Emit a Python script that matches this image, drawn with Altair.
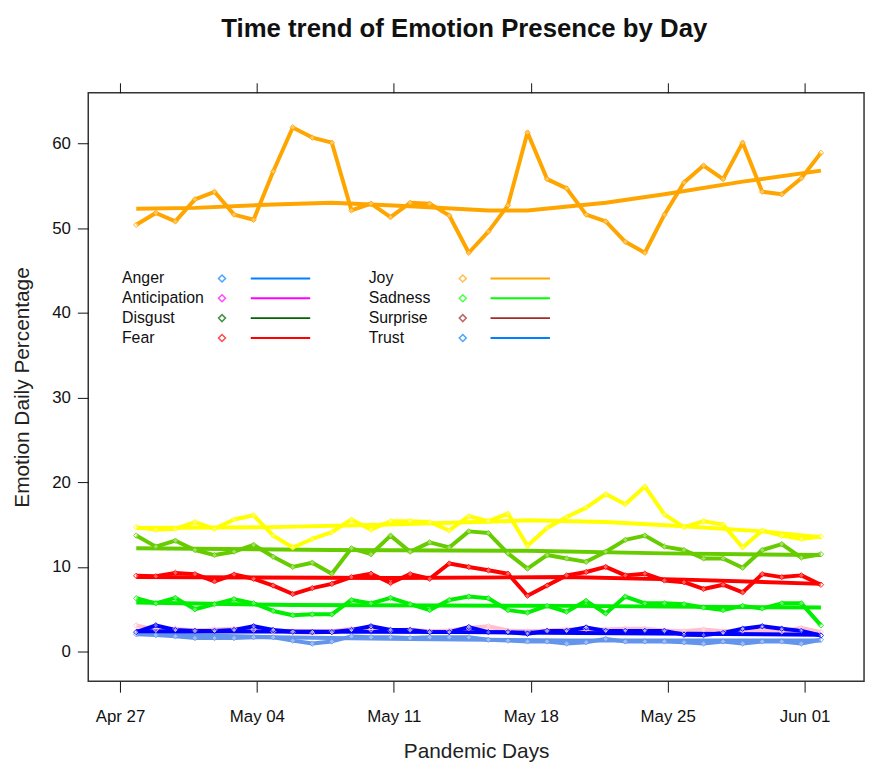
import altair as alt
import pandas as pd

# ---------------- data ----------------
dates = pd.date_range("2020-04-28", "2020-06-02", freq="D").strftime("%Y-%m-%d").tolist()

joy = [50.4, 51.8, 50.8, 53.4, 54.3, 51.6, 51.0, 56.7, 61.9, 60.7, 60.1, 52.1, 52.9, 51.3, 53.0, 52.9, 51.5, 47.1,
       49.6, 52.7, 61.3, 55.8, 54.7, 51.6, 50.8, 48.4, 47.1, 51.6, 55.4, 57.4, 55.8, 60.1, 54.3, 54.0, 55.9, 58.9]
anticipation = [14.7, 14.4, 14.5, 15.3, 14.5, 15.6, 16.1, 13.7, 12.3, 13.3, 14.1, 15.6, 14.4, 15.4, 15.4, 15.3, 14.3, 16.0,
                15.4, 16.3, 12.5, 14.6, 15.9, 17.0, 18.6, 17.4, 19.5, 16.2, 14.7, 15.4, 15.0, 12.3, 14.3, 13.7, 13.3, 13.6]
trust = [13.7, 12.4, 13.1, 12.0, 11.4, 11.8, 12.6, 11.2, 10.0, 10.5, 9.2, 12.2, 11.5, 13.7, 11.8, 12.9, 12.3, 14.2,
         14.0, 11.6, 9.8, 11.4, 11.0, 10.6, 11.8, 13.2, 13.7, 12.4, 12.0, 11.0, 11.0, 9.9, 12.0, 12.7, 11.1, 11.5]
fear = [8.95, 8.9, 9.3, 9.15, 8.3, 9.1, 8.6, 7.8, 6.8, 7.5, 8.0, 8.8, 9.2, 8.1, 9.15, 8.6, 10.4, 10.0,
        9.6, 9.2, 6.6, 7.8, 9.0, 9.4, 10.0, 9.0, 9.2, 8.4, 8.2, 7.4, 7.9, 7.0, 9.15, 8.8, 9.0, 7.9]
sadness = [6.3, 5.7, 6.35, 5.0, 5.6, 6.2, 5.7, 4.8, 4.3, 4.4, 4.4, 6.1, 5.7, 6.35, 5.6, 4.9, 6.1, 6.5,
           6.3, 4.9, 4.6, 5.4, 4.7, 6.0, 4.5, 6.5, 5.7, 5.7, 5.6, 5.2, 4.9, 5.4, 5.1, 5.7, 5.7, 3.1]
surprise = [3.1, 2.6, 2.7, 2.5, 2.6, 2.7, 2.6, 2.4, 2.3, 2.2, 2.4, 2.7, 2.6, 2.5, 2.6, 2.4, 2.5, 2.8,
            3.0, 2.5, 2.4, 2.5, 2.6, 2.7, 2.6, 2.7, 2.7, 2.5, 2.4, 2.6, 2.4, 2.5, 2.7, 2.4, 2.8, 2.3]
anger = [2.3, 3.1, 2.55, 2.45, 2.45, 2.55, 3.0, 2.55, 2.35, 2.3, 2.3, 2.55, 3.0, 2.55, 2.55, 2.3, 2.3, 2.9,
         2.3, 2.3, 2.1, 2.45, 2.45, 2.85, 2.45, 2.45, 2.45, 2.45, 2.0, 1.95, 2.2, 2.7, 3.0, 2.7, 2.45, 1.9]
disgust = [2.05, 1.95, 1.8, 1.6, 1.6, 1.6, 1.7, 1.7, 1.3, 0.95, 1.2, 1.8, 1.7, 1.7, 1.6, 1.7, 1.7, 1.7,
           1.4, 1.3, 1.2, 1.2, 0.95, 1.1, 1.5, 1.2, 1.2, 1.2, 1.1, 0.95, 1.2, 0.95, 1.2, 1.2, 0.95, 1.4]

# smooth trend lines at a few dates
joy_trend_dates = ["2020-04-28", "2020-05-01", "2020-05-05", "2020-05-08", "2020-05-12", "2020-05-16",
                   "2020-05-18", "2020-05-22", "2020-05-25", "2020-05-29", "2020-06-02"]
joy_trend = [52.3, 52.4, 52.8, 53.0, 52.6, 52.1, 52.1, 53.0, 54.0, 55.5, 56.8]
anticipation_trend_dates = ["2020-04-28", "2020-05-05", "2020-05-11", "2020-05-18", "2020-05-22",
                            "2020-05-26", "2020-05-30", "2020-06-02"]
anticipation_trend = [14.6, 14.7, 15.0, 15.5, 15.3, 14.8, 14.2, 13.5]
trust_trend_dates = ["2020-04-28", "2020-05-08", "2020-05-18", "2020-05-25", "2020-06-02"]
trust_trend = [12.2, 12.0, 11.9, 11.6, 11.4]
fear_trend_dates = ["2020-04-28", "2020-05-11", "2020-05-20", "2020-05-26", "2020-06-02"]
fear_trend = [8.8, 8.7, 8.8, 8.5, 8.0]
sadness_trend_dates = ["2020-04-28", "2020-05-06", "2020-05-20", "2020-06-02"]
sadness_trend = [5.8, 5.5, 5.4, 5.2]
surprise_trend_dates = ["2020-04-28", "2020-06-02"]
surprise_trend = [2.5, 2.3]
anger_trend_dates = ["2020-04-28", "2020-05-15", "2020-06-02"]
anger_trend = [2.4, 2.3, 2.0]
disgust_trend_dates = ["2020-04-28", "2020-05-05", "2020-05-12", "2020-05-20", "2020-06-02"]
disgust_trend = [2.1, 1.7, 1.5, 1.3, 1.3]

# drawing order (bottom to top) and line colours
draw_order = ["Disgust", "Surprise", "Anger", "Sadness", "Fear", "Trust", "Anticipation", "Joy"]
line_colors = ["#6495ed", "#ffc0cb", "#0000ff", "#00ee00", "#ff0000", "#66cc00", "#ffff00", "#ffa500"]

series = {"Joy": joy, "Anticipation": anticipation, "Trust": trust, "Fear": fear,
          "Sadness": sadness, "Surprise": surprise, "Anger": anger, "Disgust": disgust}
trends = {"Joy": (joy_trend_dates, joy_trend),
          "Anticipation": (anticipation_trend_dates, anticipation_trend),
          "Trust": (trust_trend_dates, trust_trend),
          "Fear": (fear_trend_dates, fear_trend),
          "Sadness": (sadness_trend_dates, sadness_trend),
          "Surprise": (surprise_trend_dates, surprise_trend),
          "Anger": (anger_trend_dates, anger_trend),
          "Disgust": (disgust_trend_dates, disgust_trend)}

# legend (lattice key), filled column by column in a 2-column grid
legend_order = ["Anger", "Anticipation", "Disgust", "Fear", "Joy", "Sadness", "Surprise", "Trust"]
legend_colors = ["#0080ff", "#ff00ff", "#006400", "#ff0000", "#ffa500", "#00ff00", "#a52a2a", "#0080ff"]

tick_dates = [(2020, 4, 27), (2020, 5, 4), (2020, 5, 11), (2020, 5, 18), (2020, 5, 25), (2020, 6, 1)]
y_ticks = [0, 10, 20, 30, 40, 50, 60]

# ---------------- frames ----------------
rows = []
for k, emo in enumerate(draw_order):
    for d, v in zip(dates, series[emo]):
        rows.append({"date": d, "value": v, "emotion": emo, "grp": f"{k}a"})
    td, tv = trends[emo]
    for d, v in zip(td, tv):
        rows.append({"date": d, "value": v, "emotion": emo, "grp": f"{k}b"})
df = pd.DataFrame(rows)
pts = df[df["grp"].str.endswith("a")]

FONT = "Liberation Sans"

x_dom = [alt.DateTime(year=2020, month=4, date=25, hours=13, minutes=6, utc=True),
         alt.DateTime(year=2020, month=6, date=4, hours=4, minutes=56, utc=True)]
x_vals = [alt.DateTime(year=y, month=m, date=d, hours=4, utc=True) for (y, m, d) in tick_dates]
x_scale = alt.Scale(type="utc", domain=x_dom)
y_scale = alt.Scale(domain=[-3.5, 66], nice=False, zero=False)

x_bottom = alt.X("date:T", scale=x_scale, axis=alt.Axis(
    values=x_vals, format="%b %d", title="Pandemic Days", orient="bottom",
    labelFontSize=17, labelFont=FONT, labelColor="#111", labelPadding=17, labelFlush=False,
    tickSize=11, tickColor="#111", domain=False, grid=False,
    titleFontSize=21, titleFont=FONT, titleFontWeight="normal", titleColor="#222", titlePadding=16))
x_top = alt.X("date:T", scale=x_scale, axis=alt.Axis(
    values=x_vals, orient="top", labels=False, title=None, tickSize=10, tickColor="#111",
    domain=False, grid=False))
x_none = alt.X("date:T", scale=x_scale, axis=None)
y_axis = alt.Axis(
    values=y_ticks, title="Emotion Daily Percentage",
    labelFontSize=17, labelFont=FONT, labelColor="#111", labelPadding=7,
    tickSize=11, tickColor="#111", domain=False, grid=False,
    titleFontSize=21, titleFont=FONT, titleFontWeight="normal", titleColor="#222", titlePadding=19)
y_enc = alt.Y("value:Q", scale=y_scale, axis=y_axis)

data_color = alt.Color("emotion:N", scale=alt.Scale(domain=draw_order, range=line_colors), legend=None)

lines = alt.Chart(df).mark_line(strokeWidth=4, strokeJoin="round").encode(
    x=x_bottom, y=y_enc, color=data_color, detail="grp:N", order="date:T")

points = alt.Chart(pts).mark_point(shape="diamond", filled=False, size=30, strokeWidth=1,
                                   fill="white", fillOpacity=0.45, opacity=0.85).encode(
    x=x_top, y=y_enc, color=data_color)


def leg_color(**kw):
    base = dict(orient="none", columns=2, direction="vertical", title=None, padding=0,
                labelFont=FONT, labelFontSize=16, labelColor="#111", rowPadding=4)
    base.update(kw)
    return alt.Color("emotion:N", scale=alt.Scale(domain=legend_order, range=legend_colors),
                     legend=alt.Legend(**base))


legend_src = pd.DataFrame({"emotion": legend_order, "value": [0] * 8, "date": [dates[0]] * 8})

leg_labels = alt.Chart(legend_src).mark_point(shape="circle", filled=False).encode(
    x=x_none, y=y_enc,
    color=leg_color(legendX=18, legendY=179.5, symbolSize=0, symbolStrokeWidth=0,
                    symbolOpacity=0, labelOffset=0, columnPadding=150)
).transform_filter("false")

leg_diamonds = alt.Chart(legend_src).mark_point(shape="diamond", filled=False).encode(
    x=x_none, y=y_enc,
    color=leg_color(legendX=127, legendY=179.5, symbolType="diamond", symbolSize=50,
                    symbolStrokeWidth=1.5, labelExpr="' '", labelOffset=0, columnPadding=227)
).transform_filter("false")

leg_lines = alt.Chart(legend_src).mark_line().encode(
    x=x_none, y=y_enc,
    color=leg_color(legendX=186, legendY=179.5, symbolType="M-6,0H6", symbolSize=100,
                    symbolStrokeWidth=2, labelExpr="' '", labelOffset=0, columnPadding=174)
).transform_filter("false")

chart = alt.layer(lines, points, leg_labels, leg_diamonds, leg_lines).resolve_scale(
    color="independent").resolve_axis(x="independent").properties(
    width=783, height=594,
    autosize=alt.AutoSizeParams(type="none"),
    padding={"left": 81, "top": 82, "right": 5, "bottom": 78},
    background="white",
    title=alt.TitleParams("Time trend of Emotion Presence by Day", font=FONT, fontSize=26,
                          fontWeight="bold", color="#111", frame="group", anchor="middle",
                          dx=-12, offset=41),
).configure_view(stroke="#333", strokeWidth=1.5)

chart.save("out.html", embed_options={"renderer": "svg", "actions": False})
